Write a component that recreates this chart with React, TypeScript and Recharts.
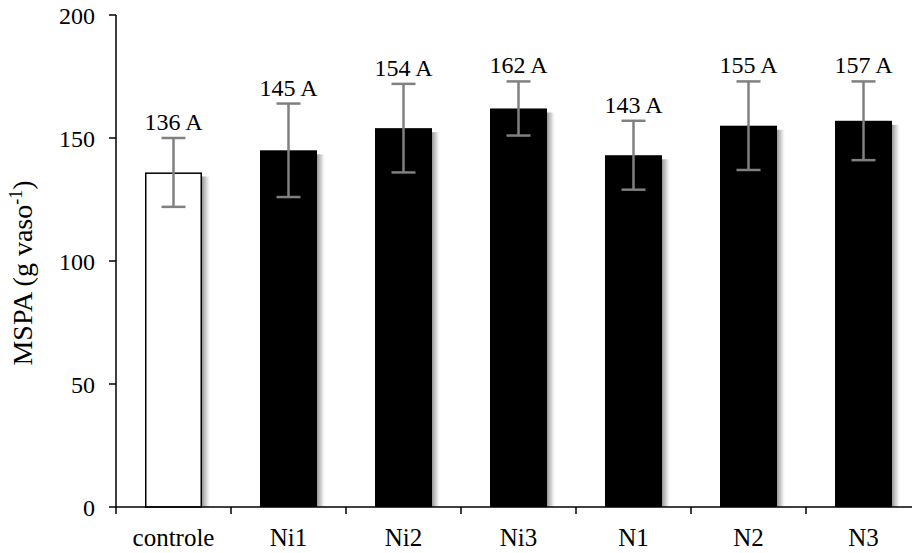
import React from "react";
import { BarChart, Bar, XAxis, YAxis, ErrorBar, LabelList, Cell } from "recharts";

const categories = ["controle", "Ni1", "Ni2", "Ni3", "N1", "N2", "N3"];
const means = [136, 145, 154, 162, 143, 155, 157];
const errors = [14, 19, 18, 11, 14, 18, 16];
const letters = ["A", "A", "A", "A", "A", "A", "A"];
const yTicks = [0, 50, 100, 150, 200];

const data = categories.map((c, i) => ({ name: c, value: means[i], err: errors[i], label: `${means[i]} ${letters[i]}` }));

const FONT = "'Liberation Serif', 'Times New Roman', serif";

const ShadowBar = (props: any) => {
  const { x, y, width, height, fill } = props;
  if (height <= 0) return null;
  const isWhite = fill === "#FFFFFF";
  return (
    <g>
      <rect x={x + width} y={y + 4} width={9} height={height - 4} fill="url(#barShadow)" />
      <rect
        x={isWhite ? x + 0.75 : x}
        y={isWhite ? y + 0.75 : y}
        width={isWhite ? width - 1.5 : width}
        height={isWhite ? height - 0.75 : height}
        fill={fill}
        stroke={isWhite ? "#000" : "none"}
        strokeWidth={isWhite ? 1.5 : 0}
      />
    </g>
  );
};

const TopLabel = (props: any) => {
  const vb = props.viewBox || props;
  const x = vb.x ?? props.x;
  const y = vb.y ?? props.y;
  const width = vb.width ?? props.width;
  const height = vb.height ?? props.height;
  const idx = props.index;
  const d = data[idx];
  if (!d) return null;
  const pxPerUnit = height / d.value;
  const errTop = y - d.err * pxPerUnit;
  return (
    <text x={x + width / 2} y={errTop - 8} textAnchor="middle" fontFamily={FONT} fontSize={24} fill="#000">
      {d.label}
    </text>
  );
};

const XTick = (props: any) => {
  const { x, y, payload, index } = props;
  const half = payload && payload.offset ? payload.offset : 57.5;
  return (
    <g>
      <line x1={x - half} y1={y} x2={x - half} y2={y + 7} stroke="#000" strokeWidth={1.5} />
      {index === categories.length - 1 && (
        <line x1={x + half} y1={y} x2={x + half} y2={y + 7} stroke="#000" strokeWidth={1.5} />
      )}
      <text x={x} y={y + 39} textAnchor="middle" fontFamily={FONT} fontSize={25} fill="#000">
        {payload.value}
      </text>
    </g>
  );
};

const YLabel = () => (
  <text
    x={32}
    y={273}
    transform="rotate(-90 32 273)"
    textAnchor="middle"
    fontFamily={FONT}
    fontSize={28}
    fill="#000"
  >
    MSPA (g vaso
    <tspan dy={-10} fontSize={18}>-1</tspan>
    <tspan dy={10}>)</tspan>
  </text>
);

export default function App() {
  return (
    <div style={{ width: 912, height: 553, overflow: "hidden", position: "relative", background: "#fff" }}>
      <style>{`body{margin:0;}`}</style>
      <BarChart
        width={940}
        height={553}
        data={data}
        margin={{ top: 15, right: 19, bottom: 6, left: 46 }}
        barSize={57}
      >
        <defs>
          <linearGradient id="barShadow" x1="0" y1="0" x2="1" y2="0">
            <stop offset="0%" stopColor="#8a8a8a" stopOpacity={0.9} />
            <stop offset="50%" stopColor="#c4c4c4" stopOpacity={0.7} />
            <stop offset="100%" stopColor="#ffffff" stopOpacity={0} />
          </linearGradient>
        </defs>
        <XAxis
          dataKey="name"
          height={40}
          axisLine={{ stroke: "#000", strokeWidth: 1.5 }}
          tickLine={false}
          tickSize={0}
          tickMargin={0}
          tick={<XTick />}
          interval={0}
        />
        <YAxis
          domain={[0, 200]}
          ticks={yTicks}
          width={70}
          axisLine={{ stroke: "#000", strokeWidth: 1.5 }}
          tickLine={{ stroke: "#000", strokeWidth: 1.5 }}
          tickSize={7}
          tickMargin={14}
          tick={{ fontFamily: FONT, fontSize: 24, fill: "#000" }}
        />
        <Bar dataKey="value" isAnimationActive={false} shape={<ShadowBar />}>
          {data.map((d) => (
            <Cell key={d.name} fill={d.name === "controle" ? "#FFFFFF" : "#000000"} />
          ))}
          <ErrorBar dataKey="err" width={12} stroke="#808080" strokeWidth={2.5} direction="y" />
          <LabelList dataKey="label" content={<TopLabel />} />
        </Bar>
        <YLabel />
      </BarChart>
    </div>
  );
}
